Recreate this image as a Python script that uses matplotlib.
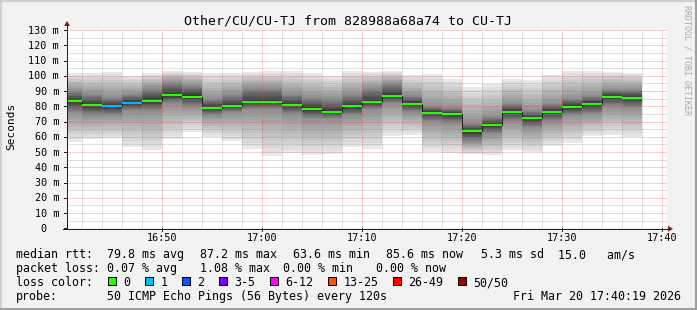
import matplotlib
matplotlib.use("Agg")
import matplotlib.pyplot as plt
from matplotlib.patches import Rectangle, Polygon
from matplotlib.lines import Line2D
import numpy as np

W, H = 697, 310
MONO = "DejaVu Sans Mono"

# ---------------- data ----------------
title = "Other/CU/CU-TJ from 828988a68a74 to CU-TJ"
# bar start times, minutes after 16:00 (2-minute steps)
bar_start = [40, 42, 44, 46, 48, 50, 52, 54, 56, 58, 60, 62, 64, 66, 68,
             70, 72, 74, 76, 78, 80, 82, 84, 86, 88, 90, 92, 94, 96]
median_ms = [83.7, 80.9, 80.2, 82.4, 83.7, 87.2, 86.3, 79.1, 80.2, 83.0,
             83.0, 80.9, 78.4, 76.3, 80.2, 82.8, 86.8, 81.7, 75.8, 75.0,
             63.6, 67.9, 76.5, 72.5, 76.5, 79.7, 81.7, 86.3, 85.6]
min_ms = [56.8, 58.3, 59.0, 53.1, 51.3, 58.3, 63.4, 60.0, 57.2, 51.8,
          47.6, 49.2, 48.0, 48.7, 53.5, 51.8, 60.5, 61.2, 50.2, 49.2,
          48.7, 48.0, 51.3, 50.2, 54.0, 56.1, 60.5, 61.2, 60.1]
q25_ms = [76, 74, 74, 77, 77, 82, 80, 74, 76, 78,
          78, 75, 72, 72, 74, 78, 82, 76, 70, 69,
          57, 62, 70, 66, 70, 74, 75, 80, 79]
q75_ms = [90, 88, 86, 88, 92, 96, 94, 85, 88, 92,
          92, 88, 86, 85, 88, 92, 95, 87, 80, 79,
          69, 73, 82, 77, 82, 85, 87, 91, 91]
max_ms = [101.6, 101.6, 102.5, 99.9, 101.6, 103.1, 102.5, 102.0, 101.6, 102.5,
          102.8, 102.8, 102.0, 99.9, 102.8, 102.7, 103.4, 100.5, 101.2, 97.7,
          92.9, 94.6, 97.7, 97.2, 100.3, 103.1, 103.1, 102.7, 102.0]
loss_pings = [0, 0, 1, 1, 0, 0, 0, 0, 0, 0, 0, 0, 0, 0, 0,
              0, 0, 0, 0, 0, 0, 0, 0, 0, 0, 0, 0, 0, 0]
pings = 50

x_ticks = [50, 60, 70, 80, 90, 100]
x_labels = ["16:50", "17:00", "17:10", "17:20", "17:30", "17:40"]
y_ticks = [0, 10, 20, 30, 40, 50, 60, 70, 80, 90, 100, 110, 120, 130]
y_labels = ["0  ", "10 m", "20 m", "30 m", "40 m", "50 m", "60 m", "70 m",
            "80 m", "90 m", "100 m", "110 m", "120 m", "130 m"]

loss_names = ["0", "1", "2", "3-5", "6-12", "13-25", "26-49", "50/50"]
loss_colors = ["#26ff00", "#00b8ff", "#0059ff", "#7e00ff", "#ff00ff",
               "#ff5500", "#ff0000", "#a00000"]

row1 = [("median rtt:", 16), ("79.8 ms avg", 107.3), ("87.2 ms max", 200),
        ("63.6 ms min", 293), ("85.6 ms now", 386), ("5.3 ms sd", 481),
        ("15.0   am/s", 558.3)]
row2 = [("packet loss:", 16), ("0.07 % avg", 107.3), ("1.08 % max", 200),
        ("0.00 % min", 283), ("0.00 % now", 376)]
row4 = [("probe:", 16), ("50 ICMP Echo Pings (56 Bytes) every 120s", 107.3),
        ("Fri Mar 20 17:40:19 2026", 513.3)]

# ---------------- figure ----------------
fig = plt.figure(figsize=(W / 100, H / 100), dpi=100)
fig.patch.set_facecolor("#f2f2f2")


def fx(x):
    return x / W


def fy(y):
    return 1 - y / H


# 3D border
for (xs, ys, c) in [([0, W], [0.5, 0.5], "#cfcfcf"), ([0.5, 0.5], [0, H], "#cfcfcf"),
                    ([0, W], [H - 1, H - 1], "#9e9e9e"), ([W - 1, W - 1], [0, H], "#9e9e9e")]:
    fig.add_artist(Line2D([fx(v) for v in xs], [fy(v) for v in ys],
                          transform=fig.transFigure, color=c, lw=1.5))

X0, X1, Y0, Y1 = 67, 667, 228.3, 30
ax = fig.add_axes([fx(X0), fy(Y0), (X1 - X0) / W, (Y0 - Y1) / H])
ax.set_facecolor("white")
for s in ax.spines.values():
    s.set_visible(False)
ax.set_xlim(40.47, 100.47)
ax.set_ylim(0, 130)
ax.set_xticks([])
ax.set_yticks([])

# smoke
starts = np.array(bar_start, dtype=float)
qf = [0, 0.25, 0.5, 0.75, 1.0]
qv = np.array([min_ms, q25_ms, median_ms, q75_ms, max_ms], dtype=float)
half = pings // 2
for ib in range(1, half + 1):
    f_lo = (ib - 1) / (pings - 1)
    f_hi = (pings - ib) / (pings - 1)
    lo = np.array([np.interp(f_lo, qf, qv[:, i]) for i in range(len(starts))])
    hi = np.array([np.interp(f_hi, qf, qv[:, i]) for i in range(len(starts))])
    g = int(190 / half * (half - ib)) + 50
    col = "#%02x%02x%02x" % (g, g, g)
    ax.bar(starts, hi - lo, bottom=lo, width=2.0, align="edge", color=col,
           linewidth=0, antialiased=False, zorder=1)

# grid
minor_v = [m for m in range(42, 101, 2) if m % 10 != 0]
major_v = list(range(50, 101, 10))
minor_h = [v for v in range(5, 131, 5) if v % 10 != 0]
major_h = list(range(10, 131, 10))
gcol = (0.56, 0.56, 0.56, 0.55)
mcol = (0.87, 0.31, 0.31, 0.55)
ax.vlines(minor_v, 0, 130, colors=[gcol], lw=0.72, linestyles=[(0, (1, 1))], zorder=2)
ax.hlines(minor_h, 40.47, 100.47, colors=[gcol], lw=0.72, linestyles=[(0, (1, 1))], zorder=2)
ax.vlines(major_v, 0, 130, colors=[mcol], lw=0.72, linestyles=[(0, (1, 1))], zorder=2)
ax.hlines(major_h, 40.47, 100.47, colors=[mcol], lw=0.72, linestyles=[(0, (1, 1))], zorder=2)

# median: black step line + coloured loss segments
edges = np.append(starts, starts[-1] + 2)
ax.stairs(median_ms, edges, baseline=None, color="#202020", lw=0.72, zorder=3)


def loss_color(n):
    if n == 0:
        return loss_colors[0]
    if n == 1:
        return loss_colors[1]
    if n == 2:
        return loss_colors[2]
    if n <= 5:
        return loss_colors[3]
    if n <= 12:
        return loss_colors[4]
    if n <= 25:
        return loss_colors[5]
    if n < 50:
        return loss_colors[6]
    return loss_colors[7]


ax.hlines(median_ms, starts, starts + 2, colors=[loss_color(n) for n in loss_pings],
          lw=1.44, zorder=4)

# axes lines & arrows
axis_col = "#1f1f1f"
arrow_col = "#801f1f"
fig.add_artist(Line2D([fx(X0), fx(X0)], [fy(Y0 + 0.5), fy(24)], transform=fig.transFigure,
                      color=axis_col, lw=0.72))
fig.add_artist(Line2D([fx(63), fx(669)], [fy(Y0 + 0.5), fy(Y0 + 0.5)], transform=fig.transFigure,
                      color=axis_col, lw=0.72))
fig.add_artist(Polygon([[fx(64), fy(26)], [fx(70), fy(26)], [fx(67), fy(21)]],
                       closed=True, transform=fig.transFigure, color=arrow_col, lw=0))
fig.add_artist(Polygon([[fx(668), fy(Y0 - 2.5)], [fx(668), fy(Y0 + 3.5)], [fx(673), fy(Y0 + 0.5)]],
                       closed=True, transform=fig.transFigure, color=arrow_col, lw=0))

# y ticks & labels
ppm = (Y0 - Y1) / 130.0
for v, lab in zip(y_ticks, y_labels):
    yp = Y0 - v * ppm
    fig.add_artist(Line2D([fx(64), fx(X0)], [fy(yp), fy(yp)], transform=fig.transFigure,
                          color=axis_col, lw=0.72))
    fig.text(fx(59), fy(yp + 3.6), lab, ha="right", va="baseline", family=MONO,
             fontsize=7.3, color="black")

# x ticks & labels
ppx = (X1 - X0) / 60.0
for m, lab in zip(x_ticks, x_labels):
    xp = X0 + (m - 40.47) * ppx
    fig.add_artist(Line2D([fx(xp), fx(xp)], [fy(Y0), fy(Y0 + 3)], transform=fig.transFigure,
                          color=axis_col, lw=0.72))
    fig.text(fx(xp), fy(241), lab, ha="center", va="baseline", family=MONO,
             fontsize=7.3, color="black")

# title, unit, watermark
fig.text(fx(347.5), fy(24), title, ha="center", va="baseline", family=MONO, fontsize=9.5)
fig.text(fx(11), fy(126.5), "Seconds", ha="center", va="center", rotation=90,
         family=MONO, fontsize=8.0)
fig.text(fx(687), fy(60), "RRDTOOL / TOBI OETIKER", ha="center", va="center",
         rotation=270, family=MONO, fontsize=6.0, color="#a8a8a8")

# legend rows
LF = 8.37
for txt, xp in row1:
    fig.text(fx(xp), fy(258.3), txt, ha="left", va="baseline", family=MONO, fontsize=LF)
for txt, xp in row2:
    fig.text(fx(xp), fy(272.3), txt, ha="left", va="baseline", family=MONO, fontsize=LF)
fig.text(fx(16), fy(286.3), "loss color:", ha="left", va="baseline", family=MONO, fontsize=LF)
sx = 108.3
for name, c in zip(loss_names, loss_colors):
    fig.add_artist(Rectangle((fx(sx), fy(285.3)), 8 / W, 8 / H, transform=fig.transFigure,
                             facecolor=c, edgecolor="black", lw=0.72))
    fig.text(fx(sx + 15), fy(286.3), name, ha="left", va="baseline", family=MONO, fontsize=LF)
    sx = sx + 15 + 7.0 * len(name) + 15
for txt, xp in row4:
    fig.text(fx(xp), fy(300.3), txt, ha="left", va="baseline", family=MONO, fontsize=LF)

fig.savefig("out.png", dpi=100, facecolor=fig.get_facecolor())
